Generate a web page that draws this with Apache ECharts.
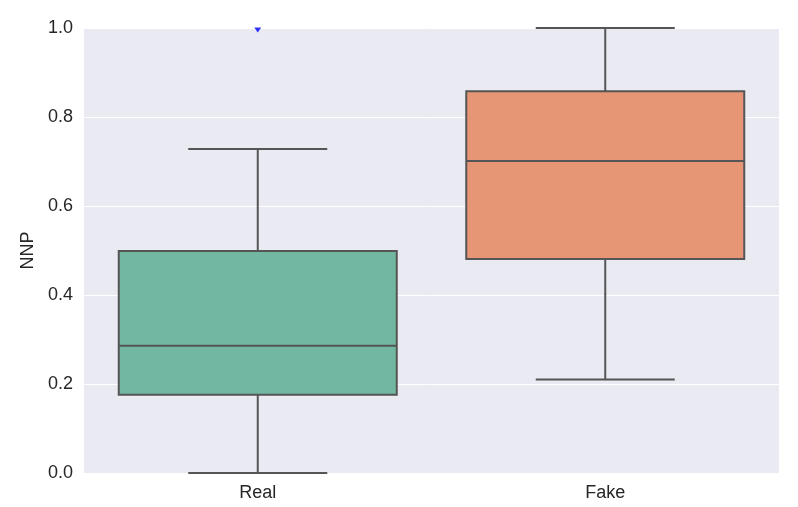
<!DOCTYPE html>
<html><head><meta charset="utf-8">
<script src="https://cdn.jsdelivr.net/npm/echarts@6/dist/echarts.min.js"></script>
<style>html,body{margin:0;padding:0;background:#fff}#c{width:798px;height:507px}</style>
</head><body><div id="c"></div>
<script>
const categories = ['Real', 'Fake'];
// [low whisker, Q1, median, Q3, high whisker]
const boxStats = [
  [0.0, 0.176, 0.286, 0.499, 0.728],
  [0.210, 0.481, 0.701, 0.858, 1.0]
];
const outliers = [[0, 1.0]];
const boxColors = ['#72b7a1', '#e69674'];
const yTicks = [0, 0.2, 0.4, 0.6, 0.8, 1.0];

const chart = echarts.init(document.getElementById('c'));
const lineColor = '#555555';
chart.setOption({
  animation: false,
  backgroundColor: '#ffffff',
  grid: {left: 84, right: 19, top: 28, bottom: 34, backgroundColor: '#eaeaf2', show: true, borderWidth: 0},
  xAxis: {
    type: 'category', data: categories,
    axisLine: {show: false}, axisTick: {show: false},
    axisLabel: {color: '#262626', fontSize: 18, fontFamily: 'Liberation Sans', margin: 11},
    splitLine: {show: false}
  },
  yAxis: {
    type: 'value', min: 0, max: 1, interval: 0.2,
    name: 'NNP', nameLocation: 'middle', nameGap: 45, nameRotate: 90,
    nameTextStyle: {color: '#262626', fontSize: 18, fontFamily: 'Liberation Sans'},
    axisLine: {show: false}, axisTick: {show: false},
    axisLabel: {color: '#262626', fontSize: 18, fontFamily: 'Liberation Sans', margin: 11,
      formatter: v => v.toFixed(1)},
    splitLine: {lineStyle: {color: '#ffffff', width: 1}}
  },
  series: [{
    type: 'custom',
    clip: false,
    data: boxStats.map((s, i) => [i].concat(s)),
    renderItem: function (params, api) {
      const i = api.value(0);
      const lo = api.coord([i, api.value(1)]);
      const q1 = api.coord([i, api.value(2)]);
      const med = api.coord([i, api.value(3)]);
      const q3 = api.coord([i, api.value(4)]);
      const hi = api.coord([i, api.value(5)]);
      const bw = api.size([1, 0])[0] * 0.8;
      const cx = lo[0];
      const ls = {stroke: lineColor, lineWidth: 2};
      return {
        type: 'group',
        children: [
          {type: 'line', shape: {x1: cx, y1: q3[1], x2: cx, y2: hi[1]}, style: ls},
          {type: 'line', shape: {x1: cx, y1: q1[1], x2: cx, y2: lo[1]}, style: ls},
          {type: 'line', shape: {x1: cx - bw / 4, y1: hi[1], x2: cx + bw / 4, y2: hi[1]}, style: ls},
          {type: 'line', shape: {x1: cx - bw / 4, y1: lo[1], x2: cx + bw / 4, y2: lo[1]}, style: ls},
          {type: 'rect', shape: {x: cx - bw / 2, y: q3[1], width: bw, height: q1[1] - q3[1]},
            style: {fill: boxColors[i], stroke: lineColor, lineWidth: 2}},
          {type: 'line', shape: {x1: cx - bw / 2, y1: med[1], x2: cx + bw / 2, y2: med[1]}, style: ls}
        ]
      };
    }
  }, {
    type: 'scatter',
    data: outliers,
    symbol: 'triangle', symbolRotate: 180, symbolSize: [7, 5], symbolOffset: [0, 2],
    itemStyle: {color: '#0000ff'}
  }]
});
</script></body></html>
